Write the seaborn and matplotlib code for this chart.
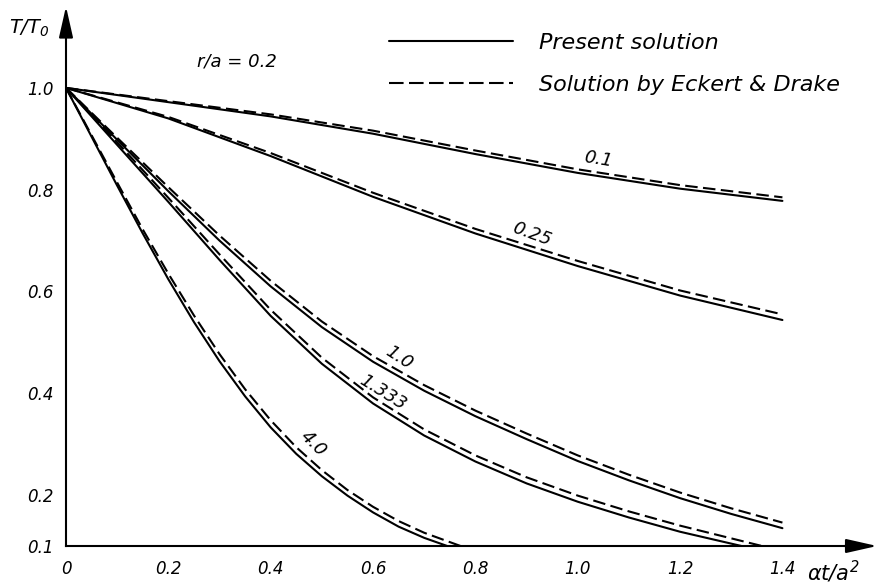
import numpy as np
import pandas as pd
import matplotlib
matplotlib.use('Agg')
import matplotlib.pyplot as plt
from matplotlib.lines import Line2D
import seaborn as sns

# Fourier number alpha*t/a^2 and T/T0 at r/a = 0.2
fo_main = [0.0, 0.2, 0.4, 0.6, 0.8, 1.0, 1.2, 1.4]
bi01_present = [1.0, 0.972, 0.944, 0.910, 0.870, 0.833, 0.802, 0.778]
bi01_eckert = [1.0, 0.974, 0.948, 0.916, 0.877, 0.840, 0.809, 0.785]
bi025_present = [1.0, 0.940, 0.866, 0.786, 0.714, 0.650, 0.592, 0.544]
bi025_eckert = [1.0, 0.943, 0.872, 0.794, 0.723, 0.660, 0.602, 0.555]

fo_bi10 = [0.0, 0.1, 0.2, 0.3, 0.4, 0.5, 0.6, 0.7, 0.8, 0.9, 1.0, 1.1, 1.2, 1.3, 1.4]
bi10_present = [1.0, 0.898, 0.797, 0.700, 0.610, 0.530, 0.462, 0.405, 0.355, 0.310,
                0.267, 0.229, 0.194, 0.163, 0.135]
bi10_eckert = [1.0, 0.902, 0.805, 0.710, 0.621, 0.541, 0.473, 0.416, 0.366, 0.321,
               0.278, 0.240, 0.205, 0.174, 0.146]

fo_bi1333_present = [0.0, 0.1, 0.2, 0.3, 0.4, 0.5, 0.6, 0.7, 0.8, 0.9, 1.0, 1.1, 1.2, 1.32]
bi1333_present = [1.0, 0.888, 0.776, 0.662, 0.552, 0.458, 0.380, 0.317, 0.266, 0.223,
                  0.187, 0.156, 0.128, 0.10]
fo_bi1333_eckert = [0.0, 0.1, 0.2, 0.3, 0.4, 0.5, 0.6, 0.7, 0.8, 0.9, 1.0, 1.1, 1.2, 1.3, 1.36]
bi1333_eckert = [1.0, 0.893, 0.784, 0.673, 0.564, 0.470, 0.392, 0.329, 0.278, 0.235,
                 0.199, 0.168, 0.140, 0.115, 0.10]

fo_bi40_present = [0.0, 0.05, 0.1, 0.15, 0.2, 0.25, 0.3, 0.35, 0.4, 0.45, 0.5, 0.55,
                   0.6, 0.65, 0.7, 0.745]
bi40_present = [1.0, 0.904, 0.808, 0.714, 0.624, 0.540, 0.463, 0.394, 0.333, 0.281,
                0.237, 0.199, 0.166, 0.138, 0.116, 0.10]
fo_bi40_eckert = [0.0, 0.05, 0.1, 0.15, 0.2, 0.25, 0.3, 0.35, 0.4, 0.45, 0.5, 0.55,
                  0.6, 0.65, 0.7, 0.771]
bi40_eckert = [1.0, 0.907, 0.814, 0.722, 0.635, 0.553, 0.477, 0.408, 0.347, 0.294,
               0.249, 0.210, 0.177, 0.149, 0.126, 0.10]

x_ticks = [0, 0.2, 0.4, 0.6, 0.8, 1.0, 1.2, 1.4]
x_ticklabels = ['0', '0.2', '0.4', '0.6', '0.8', '1.0', '1.2', '1.4']
y_ticks = [0.1, 0.2, 0.4, 0.6, 0.8, 1.0]
y_ticklabels = ['0.1', '0.2', '0.4', '0.6', '0.8', '1.0']

# curve label, x, y, rotation
curve_labels = [('0.1', 1.039, 0.859, -9), ('0.25', 0.911, 0.712, -20),
                ('1.0', 0.650, 0.471, -33), ('1.333', 0.618, 0.402, -32),
                ('4.0', 0.484, 0.301, -45)]

present = 'Present solution'
eckert = 'Solution by Eckert & Drake'

rows = []
for name, fx, fy, meth in [
        ('0.1', fo_main, bi01_present, present), ('0.1', fo_main, bi01_eckert, eckert),
        ('0.25', fo_main, bi025_present, present), ('0.25', fo_main, bi025_eckert, eckert),
        ('1.0', fo_bi10, bi10_present, present), ('1.0', fo_bi10, bi10_eckert, eckert),
        ('1.333', fo_bi1333_present, bi1333_present, present),
        ('1.333', fo_bi1333_eckert, bi1333_eckert, eckert),
        ('4.0', fo_bi40_present, bi40_present, present),
        ('4.0', fo_bi40_eckert, bi40_eckert, eckert)]:
    for a, b in zip(fx, fy):
        rows.append({'fo': a, 'T': b, 'curve': name + meth, 'method': meth})
df = pd.DataFrame(rows)

sns.set_style('white')
plt.rcParams['font.family'] = ['DejaVu Sans']
plt.rcParams['font.style'] = 'italic'
plt.rcParams['mathtext.fontset'] = 'dejavusans'
plt.rcParams['mathtext.default'] = 'it'
plt.rcParams['font.size'] = 12
plt.rcParams['text.color'] = 'black'
plt.rcParams['xtick.color'] = 'black'
plt.rcParams['ytick.color'] = 'black'
plt.rcParams['axes.labelcolor'] = 'black'

fig = plt.figure(figsize=(8.75, 5.87), dpi=100)
ax = fig.add_axes([66 / 875, 41 / 587, 807 / 875, 537 / 587])

dash_map = {present: '', eckert: (6, 2.6)}
sns.lineplot(data=df, x='fo', y='T', style='method', units='curve', estimator=None,
             dashes=dash_map, color='black', linewidth=1.5, legend=False, ax=ax, sort=False)

ax.set_xlim(0, 1.577)
ax.set_ylim(0.1, 1.155)
for side in ['top', 'right']:
    ax.spines[side].set_visible(False)
ax.spines['left'].set_bounds(0.1, 1.104)
ax.spines['bottom'].set_bounds(0, 1.53)
for side in ['left', 'bottom']:
    ax.spines[side].set_linewidth(1.5)
    ax.spines[side].set_color('black')

arrow = dict(arrowstyle='-|>,head_length=1.9,head_width=0.43', color='black', lw=1.5,
             shrinkA=0, shrinkB=0, mutation_scale=10)
ax.annotate('', xy=(0, 1.16), xytext=(0, 1.10), arrowprops=arrow, annotation_clip=False)
ax.annotate('', xy=(1.585, 0.1), xytext=(1.52, 0.1), arrowprops=arrow, annotation_clip=False)

ax.set_xticks(x_ticks)
ax.set_xticklabels(x_ticklabels)
ax.set_yticks(y_ticks)
ax.set_yticklabels(y_ticklabels)
ax.tick_params(axis='x', direction='in', length=11, width=1.4, pad=10, labelsize=12)
ax.tick_params(axis='y', direction='in', length=12, width=1.4, pad=9, labelsize=12)
ax.set_xlabel('')
ax.set_ylabel('')

ax.text(-0.072, 1.117, r'$T/T_0$', fontsize=14, ha='center', va='center')
ax.text(1.50, 0.05, r'$\alpha t/a^2$', fontsize=15, ha='center', va='center')
ax.text(0.334, 1.051, 'r/a = 0.2', fontsize=13, ha='center', va='center')

for lab, lx, ly, rot in curve_labels:
    ax.text(lx, ly, lab, fontsize=13, ha='center', va='center', rotation=rot,
            rotation_mode='anchor')

handles = [Line2D([], [], color='black', lw=1.5),
           Line2D([], [], color='black', lw=1.5, dashes=(7, 2.6))]
ax.legend(handles, [present, eckert], loc='upper left', frameon=False,
          bbox_to_anchor=(389 / 875, 1 - 33 / 587), bbox_transform=fig.transFigure,
          handlelength=5.6, handletextpad=1.15, labelspacing=1.0, borderpad=0,
          borderaxespad=0, fontsize=16)

fig.savefig('out.png', dpi=100)
